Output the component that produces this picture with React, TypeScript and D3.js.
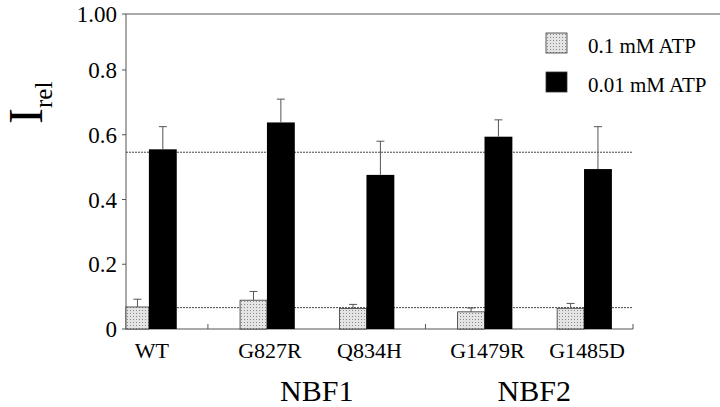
import React from 'react';
import * as d3 from 'd3';

const MUTANTS = ['WT', 'G827R', 'Q834H', 'G1479R', 'G1485D'];
const GROUP_OF = [0, 1, 1, 2, 2];
const GROUP_LABELS = ['', 'NBF1', 'NBF2'];
const HIGH_ATP = [0.068, 0.089, 0.063, 0.053, 0.064]; // 0.1 mM ATP
const HIGH_ERR = [0.024, 0.027, 0.013, 0.012, 0.015];
const LOW_ATP = [0.555, 0.638, 0.476, 0.594, 0.494]; // 0.01 mM ATP
const LOW_ERR = [0.070, 0.072, 0.104, 0.052, 0.131];
const REF_LINES = [0.546, 0.066];
const Y_TICKS = [0, 0.2, 0.4, 0.6, 0.8, 1.0];
const LEGEND = ['0.1 mM ATP', '0.01 mM ATP'];

const W = 720;
const H = 407;
const GAP = 0.186;
const BAR = 0.27;
const FONT = 'Liberation Serif, Times New Roman, Times, serif';
const LINE = '#555';

export default function App() {
  // slot position of each mutant, with an extra gap between groups
  const pos = MUTANTS.map((_, i) => i + GROUP_OF[i] * GAP);
  const x = d3.scaleLinear().domain([-0.23, 4.864]).range([126, 633]);
  const y = d3.scaleLinear().domain([0, 0.8, 1]).range([329, 70, 14]);

  const separators = pos.slice(1)
    .map((p, i) => (GROUP_OF[i + 1] !== GROUP_OF[i] ? (p + pos[i]) / 2 : null))
    .filter(d => d !== null) as number[];
  separators.push(x.domain()[1]);

  const groups = d3.groups(MUTANTS.map((m, i) => ({ m, i })), d => GROUP_OF[d.i])
    .filter(([g]) => GROUP_LABELS[g]);

  const errBar = (cx: number, top: number, err: number, key: string) => (
    <g key={key} stroke={LINE} strokeWidth={1}>
      <line x1={cx} x2={cx} y1={y(top)} y2={y(top + err)} />
      <line x1={cx - 4} x2={cx + 4} y1={y(top + err)} y2={y(top + err)} />
    </g>
  );

  return (
    <svg width={W} height={H} style={{ position: 'absolute', left: 0, top: 0, background: '#fff', fontFamily: FONT }}>
      <defs>
        <pattern id="stipple" width={3} height={3} patternUnits="userSpaceOnUse">
          <rect width={3} height={3} fill="#e4e4e4" />
          <rect x={1} y={1} width={1} height={1} fill="#8a8a8a" />
        </pattern>
      </defs>

      {/* y axis label */}
      <text transform="translate(42,124) rotate(-90)" fontSize={48} fill="#000">
        I<tspan fontSize={25} dy={10}>rel</tspan>
      </text>

      {/* frame */}
      <line x1={x.range()[0]} x2={W} y1={y(1)} y2={y(1)} stroke={LINE} />
      <line x1={x.range()[0]} x2={x.range()[0]} y1={y(1)} y2={y(0)} stroke={LINE} />
      <line x1={x.range()[0]} x2={x.range()[1]} y1={y(0)} y2={y(0)} stroke={LINE} />

      {Y_TICKS.map(t => (
        <g key={t}>
          <line x1={x.range()[0] - 4} x2={x.range()[0]} y1={y(t)} y2={y(t)} stroke={LINE} />
          <text x={x.range()[0] - 9} y={y(t)} dy="0.35em" textAnchor="end" fontSize={23} fill="#000">
            {t === 0 ? '0' : t === 1 ? '1.00' : t.toFixed(1)}
          </text>
        </g>
      ))}

      {separators.map((s, i) => (
        <line key={i} x1={x(s)} x2={x(s)} y1={y(0)} y2={y(0) - 5} stroke={LINE} />
      ))}

      {/* reference lines */}
      {REF_LINES.map((r, i) => (
        <line key={i} x1={x.range()[0]} x2={x.range()[1]} y1={y(r)} y2={y(r)}
          stroke="#444" strokeWidth={1} strokeDasharray="2,1" />
      ))}

      {/* bars */}
      {MUTANTS.map((m, i) => {
        const p = pos[i];
        const xl = Math.max(x(p - BAR), x.range()[0]);
        return (
          <g key={m}>
            <rect x={xl} width={x(p) - xl} y={y(HIGH_ATP[i])} height={y(0) - y(HIGH_ATP[i])}
              fill="url(#stipple)" stroke="#333" strokeWidth={0.8} />
            <rect x={x(p)} width={x(p + BAR + 0.01) - x(p)} y={y(LOW_ATP[i])} height={y(0) - y(LOW_ATP[i])}
              fill="#000" />
            {errBar((xl + x(p)) / 2, HIGH_ATP[i], HIGH_ERR[i], 'h')}
            {errBar(x(p + (BAR + 0.01) / 2), LOW_ATP[i], LOW_ERR[i], 'l')}
            <text x={x(p) + 3} y={358} textAnchor="middle" fontSize={22} fill="#000">{m}</text>
          </g>
        );
      })}

      {groups.map(([g, items]) => (
        <text key={g} x={x(d3.mean(items, d => pos[d.i]) as number)} y={401}
          textAnchor="middle" fontSize={30} fill="#000">{GROUP_LABELS[g]}</text>
      ))}

      {/* legend */}
      {LEGEND.map((l, i) => (
        <g key={l} transform={`translate(546,${33 + i * 39})`}>
          <rect width={21} height={20} fill={i === 0 ? 'url(#stipple)' : '#000'} stroke="#333" strokeWidth={0.8} />
          <text x={42} y={20} fontSize={21} fill="#000">{l}</text>
        </g>
      ))}
    </svg>
  );
}
